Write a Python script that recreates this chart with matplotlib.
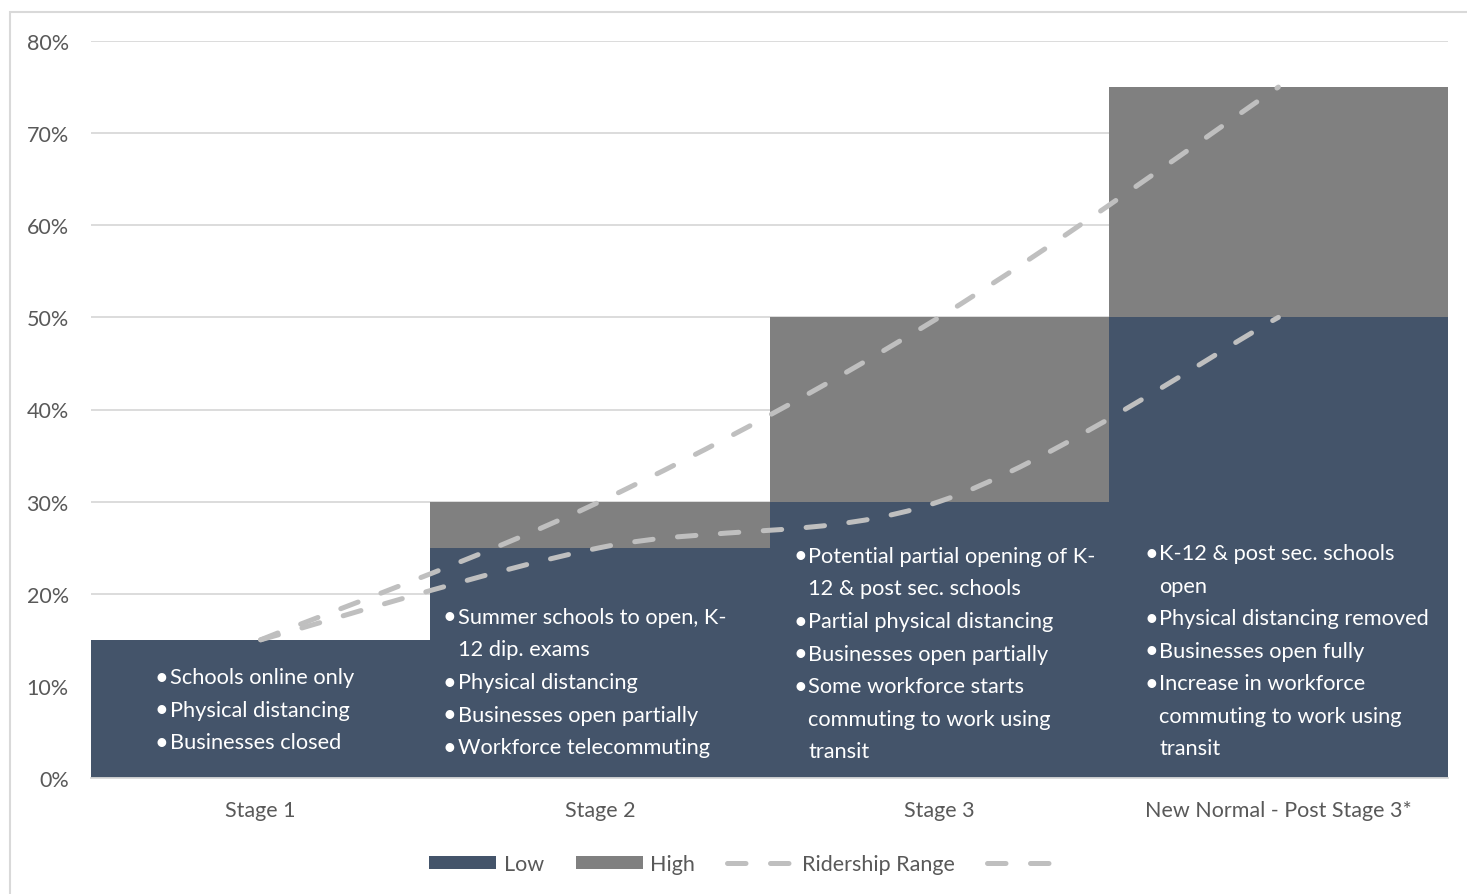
import matplotlib
matplotlib.use("Agg")
import matplotlib.pyplot as plt
from matplotlib.path import Path
from matplotlib.patches import PathPatch, Patch, Rectangle
from matplotlib.lines import Line2D
from matplotlib.ticker import MultipleLocator, FuncFormatter

plt.rcParams["font.family"] = ["Lato", "DejaVu Sans"]

stages = ["Stage 1", "Stage 2", "Stage 3", "New Normal - Post Stage 3*"]
low = [15, 25, 30, 50]
high = [0, 5, 20, 25]          # stacked on top of low
range_upper = [15, 30, 50, 75]
range_lower = [15, 25, 30, 50]

notes = [
    [["Schools online only"], ["Physical distancing"], ["Businesses closed"]],
    [["Summer schools to open, K-", "12 dip. exams"], ["Physical distancing"],
     ["Businesses open partially"], ["Workforce telecommuting"]],
    [["Potential partial opening of K-", "12 & post sec. schools"],
     ["Partial physical distancing"], ["Businesses open partially"],
     ["Some workforce starts", "commuting to work using", "transit"]],
    [["K-12 & post sec. schools", "open"], ["Physical distancing removed"],
     ["Businesses open fully"],
     ["Increase in workforce", "commuting to work using", "transit"]],
]

LOW_C = "#44546A"
HIGH_C = "#808080"
LINE_C = "#BFBFBF"
TXT_C = "#595959"

fig = plt.figure(figsize=(14.67, 8.95), dpi=100)
ax = fig.add_axes([91 / 1467, 116 / 895, 1357 / 1467, 737 / 895])

# outer chart border
fig.patches.append(Rectangle((10 / 1467, -0.01), 1.1, (895 - 13) / 895 + 0.01,
                             transform=fig.transFigure, fill=False,
                             edgecolor="#D9D9D9", linewidth=1.5))

x = list(range(len(stages)))
ax.bar(x, low, width=1.0, color=LOW_C, zorder=2, label="Low")
ax.bar(x, high, bottom=low, width=1.0, color=HIGH_C, zorder=2, label="High")


def smooth_path(xs, ys):
    # Excel-style smoothed line: cubic Bezier through points (Catmull-Rom)
    pts = list(zip(xs, ys))
    verts = [pts[0]]
    codes = [Path.MOVETO]
    n = len(pts)
    for i in range(n - 1):
        p0 = pts[max(i - 1, 0)]
        p1 = pts[i]
        p2 = pts[i + 1]
        p3 = pts[min(i + 2, n - 1)]
        c1 = (p1[0] + (p2[0] - p0[0]) / 6, p1[1] + (p2[1] - p0[1]) / 6)
        c2 = (p2[0] - (p3[0] - p1[0]) / 6, p2[1] - (p3[1] - p1[1]) / 6)
        verts += [c1, c2, p2]
        codes += [Path.CURVE4] * 3
    return Path(verts, codes)


dash = (0, (3.7, 4.9))
for ys in (range_upper, range_lower):
    pp = PathPatch(smooth_path(x, ys), fill=False, edgecolor=LINE_C,
                   linewidth=3.6, linestyle=dash, capstyle="round", zorder=4)
    ax.add_patch(pp)

# bullet notes inside the bars
text_x = [-0.267, 0.582, 1.614, 2.649]
top_y = [10.96, 17.48, 24.1, 24.42]
step = 3.53
for i, items in enumerate(notes):
    y = top_y[i]
    for item in items:
        ax.text(text_x[i] - 0.004, y, "\u2022", color="white", fontsize=17,
                va="center", ha="right", zorder=5)
        for line in item:
            ax.text(text_x[i], y, line, color="white", fontsize=15.7,
                    va="center", ha="left", zorder=5)
            y -= step

ax.set_xlim(-0.5, 3.5)
ax.set_ylim(0, 80)
ax.set_xticks(x)
ax.set_xticklabels(stages)
ax.yaxis.set_major_locator(MultipleLocator(10))
ax.yaxis.set_major_formatter(FuncFormatter(lambda v, p: f"{v:.0f}%"))
ax.tick_params(length=0, labelsize=15.5, labelcolor=TXT_C)
ax.tick_params(axis="x", pad=16)
ax.tick_params(axis="y", pad=16)
ax.grid(axis="y", color="#D9D9D9", linewidth=1.3, zorder=0)
ax.set_axisbelow(True)
for s in ["top", "right", "left"]:
    ax.spines[s].set_visible(False)
ax.spines["bottom"].set_color("#D9D9D9")
ax.spines["bottom"].set_linewidth(1.3)

handles = [
    Patch(facecolor=LOW_C, label="Low"),
    Patch(facecolor=HIGH_C, label="High"),
    Line2D([], [], color=LINE_C, linewidth=3.6, linestyle=dash,
           dash_capstyle="round", label="Ridership Range"),
    Line2D([], [], color=LINE_C, linewidth=3.6, linestyle=dash,
           dash_capstyle="round", label=" "),
]
leg = fig.legend(handles=handles, loc="center", bbox_to_anchor=(748 / 1467, 1 - 865 / 895),
                 ncol=4, frameon=False, fontsize=15.5, handlelength=3.1,
                 handleheight=0.55, handletextpad=0.35, columnspacing=1.5)
for t in leg.get_texts():
    t.set_color(TXT_C)

fig.savefig("out.png", dpi=100)
